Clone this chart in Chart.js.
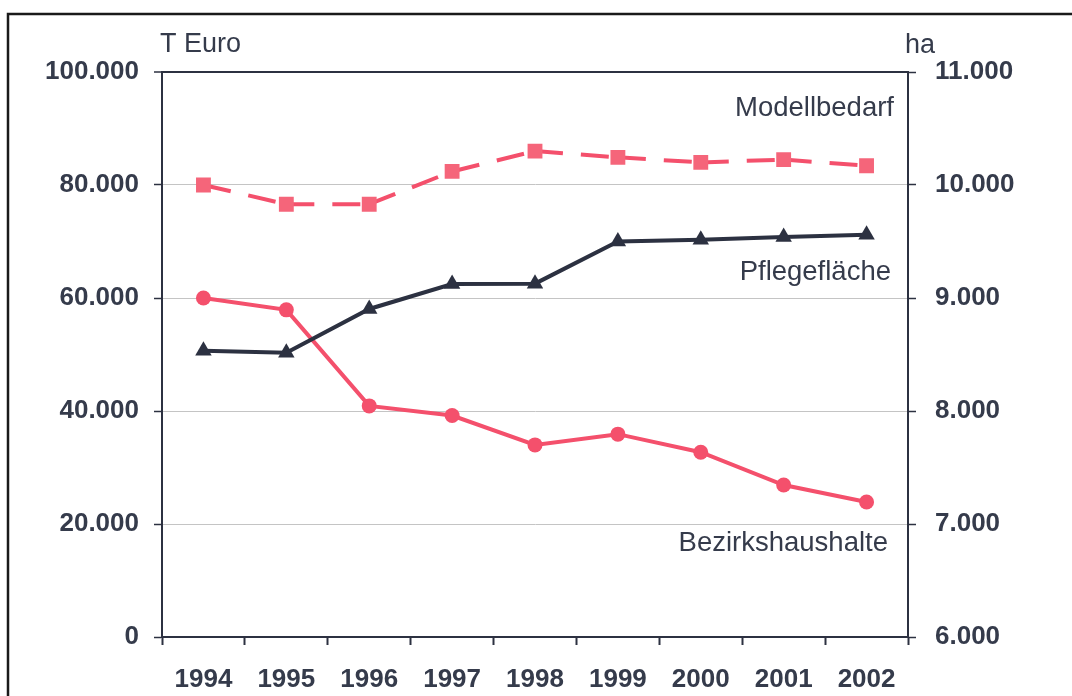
<!DOCTYPE html>
<html>
<head>
<meta charset="utf-8">
<script src="https://cdn.jsdelivr.net/npm/chart.js@4/dist/chart.umd.min.js"></script>
<style>
  html, body { margin: 0; padding: 0; background: #ffffff; }
  #wrap { position: relative; width: 1072px; height: 696px; }
</style>
</head>
<body>
<div id="wrap"><canvas id="c" width="1072" height="696"></canvas></div>
<script>
// ---- data ----
const years = ['1994', '1995', '1996', '1997', '1998', '1999', '2000', '2001', '2002'];
const bezirkshaushalte = [60000, 57900, 40900, 39200, 34000, 35900, 32700, 26900, 23900];   // T Euro
const modellbedarf    = [80000, 76600, 76600, 82400, 86000, 84900, 84000, 84500, 83400];    // T Euro
const pflegeflaeche   = [8534, 8516, 8903, 9124, 9127, 9500, 9515, 9540, 9560];            // ha
const leftAxisTitle = 'T Euro';
const rightAxisTitle = 'ha';
const seriesNames = ['Bezirkshaushalte', 'Modellbedarf', 'Pflegefläche'];
// label anchor values (left-axis units) for the in-chart series labels
const labelAnchors = [16600, 93500, 64600];

const PINK = '#f4506c';
const PINK_SQ = '#f5657a';
const DARK = '#2c3141';
const TEXT = '#353b4b';
const GRID = '#c4c4c4';
const FONT = "'Liberation Sans', Arial, Helvetica, sans-serif";

function fmt(v) {
  if (v === 0) return '0';
  const s = Math.round(v).toString();
  return s.slice(0, s.length - 3) + '.' + s.slice(s.length - 3);
}

const decor = {
  id: 'decor',
  afterDraw(chart) {
    const ctx = chart.ctx;
    const a = chart.chartArea;
    const yL = chart.scales.y;
    ctx.save();
    // outer frame
    ctx.strokeStyle = '#1a1a1a';
    ctx.lineWidth = 2.5;
    ctx.strokeRect(8, 14, 2000, 2000);
    // axis titles
    ctx.fillStyle = TEXT;
    ctx.font = '27px ' + FONT;
    ctx.textBaseline = 'alphabetic';
    ctx.textAlign = 'left';
    ctx.fillText(leftAxisTitle, a.left - 2, 52);
    ctx.fillText(rightAxisTitle, a.right - 3, 53);
    // series labels
    ctx.font = '27.5px ' + FONT;
    ctx.textAlign = 'right';
    ctx.textBaseline = 'middle';
    const rights = [a.right - 20, a.right - 14, a.right - 17];
    for (let i = 0; i < seriesNames.length; i++) {
      ctx.fillText(seriesNames[i], rights[i], yL.getPixelForValue(labelAnchors[i]));
    }
    ctx.restore();
  }
};

new Chart(document.getElementById('c'), {
  type: 'line',
  data: {
    labels: years,
    datasets: [
      {
        label: seriesNames[1],
        data: modellbedarf,
        yAxisID: 'y',
        borderColor: PINK,
        backgroundColor: PINK_SQ,
        borderWidth: 4,
        borderDash: [28, 18],
        // restart the dash pattern at every data point
        segment: { borderDashOffset: (c) => (c.p0DataIndex % 2 ? 0.001 : 0) },
        pointStyle: 'rect',
        pointRadius: 10.5,
        pointBorderWidth: 0,
        tension: 0
      },
      {
        label: seriesNames[2],
        data: pflegeflaeche,
        yAxisID: 'y1',
        borderColor: DARK,
        backgroundColor: DARK,
        borderWidth: 4,
        pointStyle: 'triangle',
        pointRadius: 9.5,
        pointBorderWidth: 0,
        tension: 0
      },
      {
        label: seriesNames[0],
        data: bezirkshaushalte,
        yAxisID: 'y',
        borderColor: PINK,
        backgroundColor: PINK,
        borderWidth: 4,
        pointStyle: 'circle',
        pointRadius: 7.5,
        pointBorderWidth: 0,
        tension: 0
      }
    ]
  },
  options: {
    responsive: false,
    animation: false,
    devicePixelRatio: 1,
    layout: { padding: { top: 72, left: 0, right: 0, bottom: 0 } },
    plugins: { legend: { display: false }, tooltip: { enabled: false } },
    scales: {
      x: {
        type: 'category',
        offset: true,
        border: { color: DARK, width: 2 },
        grid: { offset: true, drawOnChartArea: false, drawTicks: true, tickLength: 8, tickColor: DARK, tickWidth: 2 },
        ticks: { color: TEXT, font: { family: FONT, size: 26, weight: 'bold' }, padding: 19, maxRotation: 0 },
        afterFit(s) { s.height = 59; }
      },
      y: {
        position: 'left',
        min: 0,
        max: 100000,
        border: { color: DARK, width: 2 },
        grid: {
          color: (c) => (c.tick && c.tick.value === 100000) ? DARK : GRID,
          lineWidth: (c) => (c.tick && c.tick.value === 100000) ? 2 : 1,
          tickLength: 8,
          tickColor: DARK,
          tickWidth: 1.5
        },
        ticks: {
          stepSize: 20000,
          color: TEXT,
          font: { family: FONT, size: 26, weight: 'bold' },
          padding: 15,
          callback: (v) => fmt(v)
        },
        afterFit(s) { s.width = 162; }
      },
      y1: {
        position: 'right',
        min: 6000,
        max: 11000,
        border: { color: DARK, width: 2 },
        grid: { drawOnChartArea: false, tickLength: 8, tickColor: DARK, tickWidth: 1.5 },
        ticks: {
          stepSize: 1000,
          color: TEXT,
          font: { family: FONT, size: 26, weight: 'bold' },
          padding: 19,
          callback: (v) => fmt(v)
        },
        afterFit(s) { s.width = 164; }
      }
    }
  },
  plugins: [decor]
});
</script>
</body>
</html>
